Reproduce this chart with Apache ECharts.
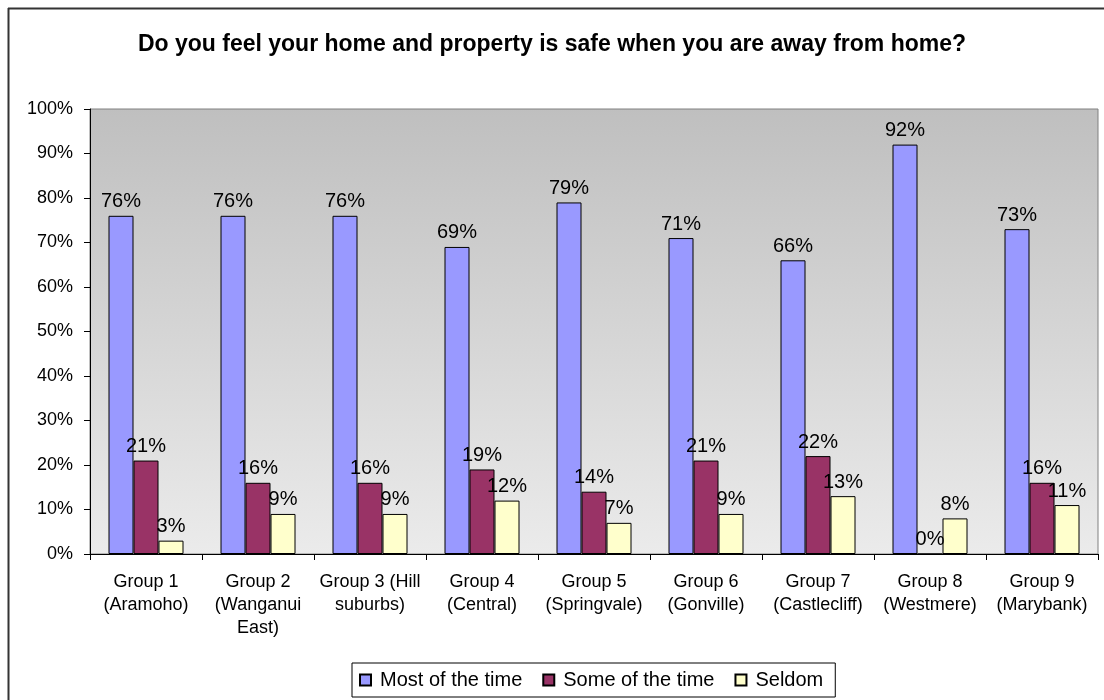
<!DOCTYPE html>
<html>
<head>
<meta charset="utf-8">
<script src="https://cdn.jsdelivr.net/npm/echarts@6/dist/echarts.min.js"></script>
<style>
  html, body { margin: 0; padding: 0; background: #fff; }
  #chart { width: 1104px; height: 700px; }
</style>
</head>
<body>
<div id="chart"></div>
<script>
// Survey groups and answer shares (percent)
const categories = [
  'Group 1\n(Aramoho)',
  'Group 2\n(Wanganui\nEast)',
  'Group 3 (Hill\nsuburbs)',
  'Group 4\n(Central)',
  'Group 5\n(Springvale)',
  'Group 6\n(Gonville)',
  'Group 7\n(Castlecliff)',
  'Group 8\n(Westmere)',
  'Group 9\n(Marybank)'
];
const mostOfTheTime = [76, 76, 76, 69, 79, 71, 66, 92, 73];
const someOfTheTime = [21, 16, 16, 19, 14, 21, 22, 0, 16];
const seldom = [3, 9, 9, 12, 7, 9, 13, 8, 11];
const seriesNames = ['Most of the time', 'Some of the time', 'Seldom'];
const yTicks = { min: 0, max: 100, step: 10 };

const FONT = 'Liberation Sans, Arial, sans-serif';

function barSeries(name, data, color) {
  return {
    name: name,
    type: 'bar',
    data: data,
    barWidth: 25,
    barGap: '0%',
    itemStyle: { color: color, borderColor: '#000', borderWidth: 1 },
    label: {
      show: true,
      position: 'top',
      distance: 4,
      formatter: p => p.value + '%',
      color: '#000',
      fontFamily: FONT,
      fontSize: 20
    }
  };
}

const chart = echarts.init(document.getElementById('chart'), null, { renderer: 'canvas' });
chart.setOption({
  animation: false,
  backgroundColor: '#fff',
  textStyle: { fontFamily: FONT },
  title: {
    text: 'Do you feel your home and property is safe when you are away from home?',
    left: 'center',
    top: 28,
    textStyle: { fontFamily: FONT, fontWeight: 'bold', fontSize: 23, color: '#000' }
  },
  grid: {
    left: 90, right: 6, top: 109, bottom: 146,
    show: true,
    borderColor: '#808080',
    borderWidth: 1,
    backgroundColor: new echarts.graphic.LinearGradient(0, 0, 0, 1, [
      { offset: 0, color: '#bfbfbf' },
      { offset: 1, color: '#ebebeb' }
    ])
  },
  legend: {
    left: 352,
    top: 663,
    data: seriesNames,
    itemWidth: 11,
    itemHeight: 11,
    itemGap: 20,
    padding: [7, 12, 7, 7],
    borderColor: '#000',
    borderWidth: 1,
    icon: 'rect',
    textStyle: { fontFamily: FONT, fontSize: 20, color: '#000', padding: [0, 0, 0, 4] }
  },
  xAxis: {
    type: 'category',
    data: categories,
    axisLine: { lineStyle: { color: '#000', width: 1 } },
    axisTick: { show: true, alignWithLabel: false, length: 6, lineStyle: { color: '#000' } },
    axisLabel: {
      interval: 0,
      margin: 17,
      fontFamily: FONT,
      fontSize: 18,
      lineHeight: 23,
      color: '#000',
      align: 'center'
    }
  },
  yAxis: {
    type: 'value',
    min: yTicks.min,
    max: yTicks.max,
    interval: yTicks.step,
    axisLine: { show: true, lineStyle: { color: '#000', width: 1 } },
    axisTick: { show: true, length: 6, lineStyle: { color: '#000' } },
    splitLine: { show: false },
    axisLabel: {
      formatter: '{value}%',
      margin: 17,
      fontFamily: FONT,
      fontSize: 18,
      color: '#000'
    }
  },
  graphic: [
    { type: 'line', shape: { x1: 8.5, y1: 8, x2: 8.5, y2: 700 }, style: { stroke: '#333', lineWidth: 2 } },
    { type: 'line', shape: { x1: 8, y1: 8.5, x2: 1104, y2: 8.5 }, style: { stroke: '#333', lineWidth: 2 } }
  ],
  series: [
    barSeries(seriesNames[0], mostOfTheTime, '#9999ff'),
    barSeries(seriesNames[1], someOfTheTime, '#993366'),
    barSeries(seriesNames[2], seldom, '#ffffcc')
  ]
});
</script>
</body>
</html>
